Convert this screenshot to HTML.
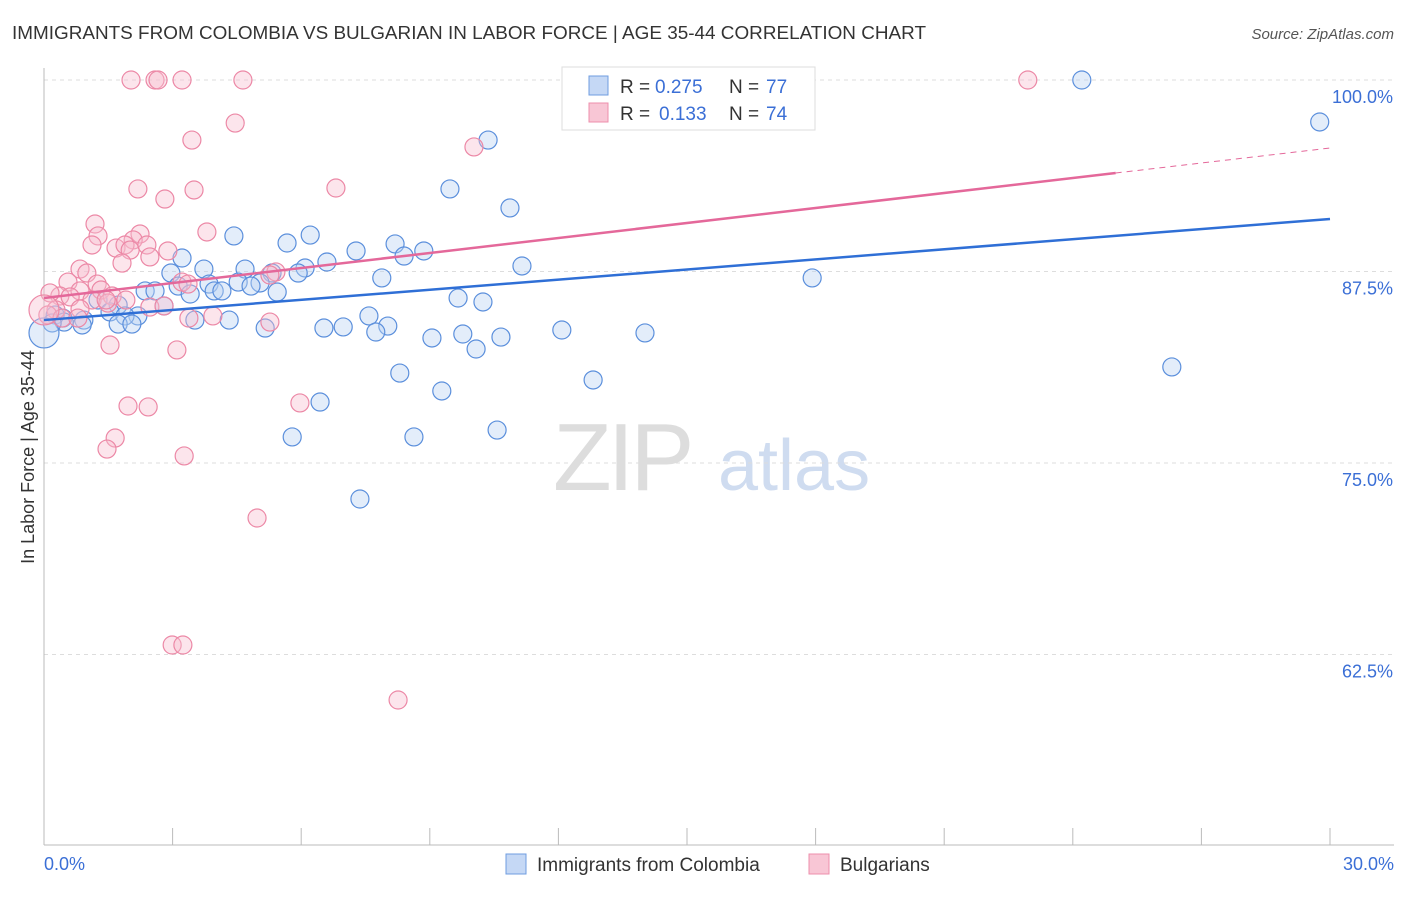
<!DOCTYPE html>
<html><head><meta charset="utf-8"><style>
body{margin:0;background:#fff;font-family:"Liberation Sans",sans-serif;}
svg text{font-family:"Liberation Sans",sans-serif;}
</style></head><body>
<svg id="chart" width="1406" height="892" xmlns="http://www.w3.org/2000/svg">
<text x="12" y="39" font-size="18" fill="#333" textLength="914" lengthAdjust="spacingAndGlyphs">IMMIGRANTS FROM COLOMBIA VS BULGARIAN IN LABOR FORCE | AGE 35-44 CORRELATION CHART</text>
<text x="1394" y="39" font-size="15" fill="#555" text-anchor="end" font-style="italic">Source: ZipAtlas.com</text>
<g>
<text x="553" y="490" font-size="96" fill="#ddd" font-family="Liberation Serif" letter-spacing="-4">ZIP</text>
<text x="718" y="490" font-size="72" fill="#cfdcf0">atlas</text>
</g>
<g id="grid"></g>
<g id="axes"></g>
<g id="pts"></g>
<g id="trends"></g>
<g>
<rect x="562" y="67" width="253" height="63" fill="#fff" stroke="#ddd"/>
<rect x="589" y="76" width="19" height="19" fill="#c5d8f5" stroke="#6f9de0"/>
<rect x="589" y="103" width="19" height="19" fill="#f8c6d5" stroke="#ee8fac"/>
<text x="620" y="93" font-size="19" fill="#333">R =</text>
<text x="655" y="93" font-size="19" fill="#3b6fd6">0.275</text>
<text x="729" y="93" font-size="19" fill="#333">N =</text>
<text x="766" y="93" font-size="19" fill="#3b6fd6">77</text>
<text x="620" y="120" font-size="19" fill="#333">R =</text>
<text x="659" y="120" font-size="19" fill="#3b6fd6">0.133</text>
<text x="729" y="120" font-size="19" fill="#333">N =</text>
<text x="766" y="120" font-size="19" fill="#3b6fd6">74</text>
</g>
<g>
<rect x="506" y="854" width="20" height="20" fill="#c5d8f5" stroke="#6f9de0"/>
<text x="537" y="871" font-size="19" fill="#333">Immigrants from Colombia</text>
<rect x="809" y="854" width="20" height="20" fill="#f8c6d5" stroke="#ee8fac"/>
<text x="840" y="871" font-size="19" fill="#333">Bulgarians</text>
</g>
<text transform="translate(34,457) rotate(-90)" font-size="18" fill="#333" text-anchor="middle">In Labor Force | Age 35-44</text>
</svg>
<script>
const xTicks=[0,3,6,9,12,15,18,21,24,27,30];
const yTicks=[100,87.5,75,62.5];
const yTickLabels=["100.0%","87.5%","75.0%","62.5%"];
const blueX=[24.21,29.76,10.36,9.47,10.87,4.43,6.21,5.67,8.19,7.28,8.86,8.40,3.22,6.60,11.15,3.73,2.96,4.69,6.09,5.32,5.93,7.88,17.92,3.85,3.13,4.53,5.04,4.83,2.36,2.59,3.97,4.15,3.41,5.44,9.66,10.24,2.80,1.73,1.26,1.54,2.19,1.89,0.44,0.26,0.93,4.32,3.52,1.73,2.05,0.89,0.47,0.19,6.53,6.98,7.58,8.02,7.74,5.16,9.77,10.66,12.08,14.02,9.05,10.08,8.30,26.31,12.81,9.28,6.44,5.79,8.63,10.57,7.37,0];
const blueY=[100,97.26,96.08,92.89,91.65,89.82,89.88,89.36,89.30,88.84,88.84,88.51,88.38,88.12,87.86,87.66,87.40,87.66,87.73,87.40,87.40,87.08,87.08,86.68,86.55,86.81,86.75,86.55,86.23,86.23,86.23,86.23,86.03,86.16,85.77,85.51,85.25,85.31,85.64,84.86,84.60,84.60,84.46,84.66,84.33,84.33,84.33,84.07,84.07,84.01,84.20,84.14,83.81,83.88,84.60,83.94,83.55,83.81,83.42,83.22,83.68,83.49,83.16,82.44,80.87,81.27,80.42,79.70,78.98,76.70,76.70,77.15,72.65,83.49];
const pinkX=[2.03,2.59,2.66,3.22,4.64,22.95,4.46,3.45,10.03,2.19,3.50,6.81,2.82,1.19,1.26,3.80,2.24,2.08,1.12,1.68,1.89,2.01,2.40,2.47,2.89,1.82,0.84,1.00,0.56,1.24,0.84,1.33,1.59,0.37,0.14,0.61,1.12,1.49,1.91,2.47,0.84,0.28,0.09,0.42,0.79,5.41,5.27,3.22,3.36,1.45,2.80,3.38,3.94,5.27,1.54,3.10,1.96,2.43,5.97,1.66,1.47,3.27,4.97,2.99,3.24,8.26,0];
const pinkY=[100,100,100,100,100,100,97.19,96.08,95.63,92.89,92.82,92.95,92.23,90.60,89.82,90.08,89.95,89.56,89.23,89.03,89.23,88.90,89.23,88.45,88.84,88.05,87.66,87.40,86.81,86.68,86.23,86.29,85.90,85.90,86.10,85.84,85.64,85.44,85.64,85.18,85.05,84.99,84.66,84.46,84.46,87.47,87.27,86.81,86.68,85.64,85.25,84.46,84.60,84.20,82.70,82.38,78.72,78.66,78.92,76.63,75.91,75.46,71.41,63.12,63.12,59.53,84.99];
const blueTrend=[84.33,90.93];
const pinkTrend=[85.77,93.93,95.56];
const X=v=>44+v/30*1286;
const Y=v=>80+(100-v)/12.5*191.5;
const NS="http://www.w3.org/2000/svg";
function mk(tag,attrs,parent){const e=document.createElementNS(NS,tag);for(const k in attrs)e.setAttribute(k,attrs[k]);parent.appendChild(e);return e;}
const grid=document.getElementById('grid'),axes=document.getElementById('axes'),pts=document.getElementById('pts'),tr=document.getElementById('trends');
yTicks.forEach((t,i)=>{
 const l=mk('line',{x1:44,x2:1394,y1:Y(t),y2:Y(t),stroke:'#ddd','stroke-dasharray':'4,4'},grid);
 
 
 const tx=mk('text',{x:1393,y:Y(t)+23,'font-size':18,fill:'#3b6fd6','text-anchor':'end'},axes);
 tx.textContent=yTickLabels[i];
 
 
});
const al=mk('line',{x1:44,x2:44,y1:68,y2:845,stroke:'#bbb'},axes);


const bl=mk('line',{x1:44,x2:1394,y1:845,y2:845,stroke:'#bbb'},axes);


xTicks.forEach(t=>{
 const l=mk('line',{x1:X(t),x2:X(t),y1:828,y2:845,stroke:'#bbb'},axes);
 
 
});
const xl0=mk('text',{x:44,y:870,'font-size':18,fill:'#3b6fd6'},axes);xl0.textContent='0.0%';


const xl1=mk('text',{x:1394,y:870,'font-size':18,fill:'#3b6fd6','text-anchor':'end'},axes);xl1.textContent='30.0%';


function dots(xs,ys,fill,stroke,name){
 xs.forEach((x,i)=>{
  const big=(x===0);
  const c=mk('circle',{cx:X(x),cy:Y(ys[i]),r:big?15:9,fill:fill,'fill-opacity':0.4,stroke:stroke,'stroke-width':1.2},pts);
  
  
 });
}
dots(blueX,blueY,'#b9d1f3','#5b8fdc','colombia-point');
dots(pinkX,pinkY,'#f7bfd0','#ec88a6','bulgarian-point');
const b=mk('line',{x1:X(0),y1:Y(blueTrend[0]),x2:X(30),y2:Y(blueTrend[1]),stroke:'#2f6fd6','stroke-width':2.5},tr);


const p=mk('line',{x1:X(0),y1:Y(pinkTrend[0]),x2:X(25),y2:Y(pinkTrend[1]),stroke:'#e4689a','stroke-width':2.5},tr);


const pd=mk('line',{x1:X(25),y1:Y(pinkTrend[1]),x2:X(30),y2:Y(pinkTrend[2]),stroke:'#e4689a','stroke-width':1,'stroke-dasharray':'6,5'},tr);


</script>
</body></html>
